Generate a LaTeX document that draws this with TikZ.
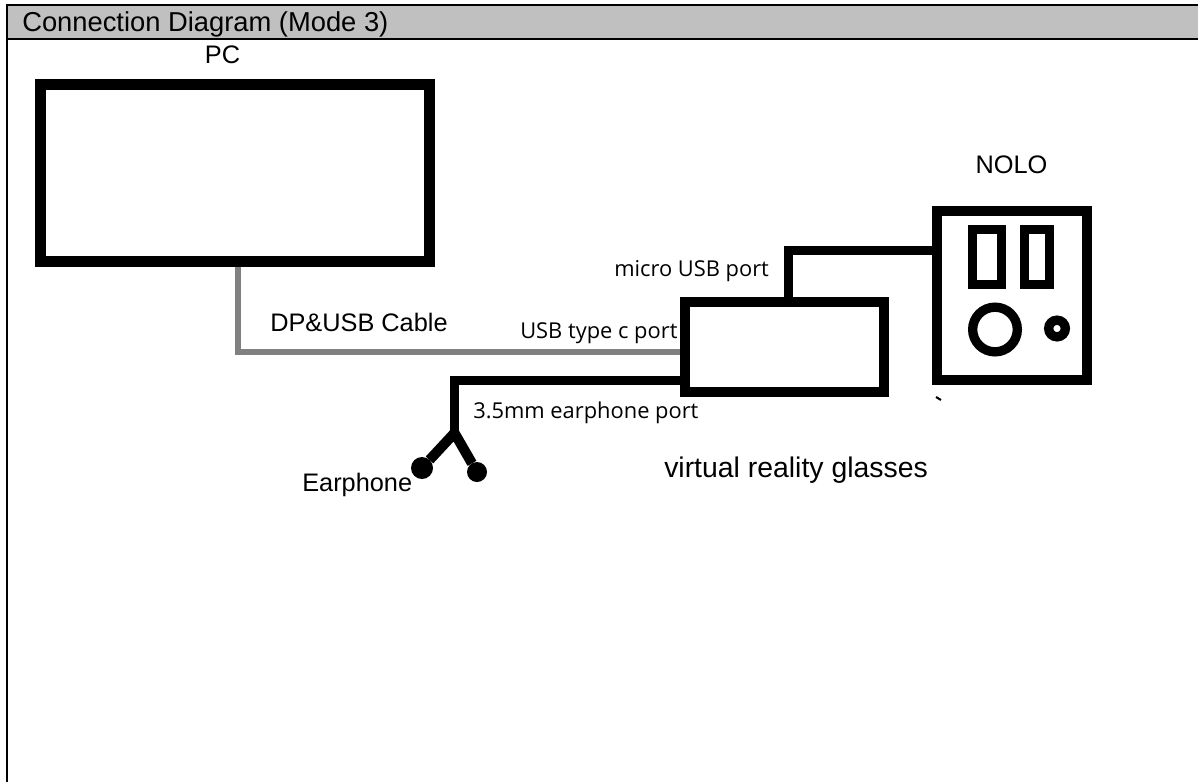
\documentclass[tikz,border=0pt]{standalone}
\usepackage{fontspec}
\setmainfont{Liberation Sans}
\newfontfamily\portfont{Open Sans}
\usetikzlibrary{positioning}
\definecolor{titlegray}{RGB}{192,192,192}
\definecolor{cablegray}{RGB}{128,128,128}
\tikzset{
	frameline/.style={line width=1.5pt},
	boxthick/.style={draw,line width=7.2pt,inner sep=0pt,outer sep=0pt},
	slotbox/.style={draw,line width=7pt,inner sep=0pt,outer sep=0pt},
	cable/.style={line width=6.8pt,line join=miter},
	graycable/.style={cablegray,line width=4.2pt},
	bud/.style={circle,fill=black,inner sep=0pt,outer sep=0pt},
	devlabel/.style={font=\fontsize{19}{22}\selectfont,inner sep=0pt},
	portlabel/.style={font=\portfont\fontsize{16.4}{19}\selectfont,inner sep=0pt}
}
\begin{document}
\begin{tikzpicture}[x=0.75pt,y=-0.75pt]
		\useasboundingbox (0,0) rectangle (1198,782);
		
		% -------------------------------------------------
		% 1. Title bar and frame
		% -------------------------------------------------
		\fill[titlegray] (7,5) rectangle (1198,39);
		\draw[frameline] (6,5) -- (1198,5);
		\draw[frameline] (7,39) -- (1198,39);
		\draw[frameline] (7,5) -- (7,782);
		\node[devlabel,anchor=base west,font=\fontsize{20.5}{24}\selectfont] (title) at (22,31) {Connection Diagram (Mode 3)};
		
		% -------------------------------------------------
		% 2. Cables (under the boxes)
		% -------------------------------------------------
		\coordinate (pcport) at (238,263);
		\coordinate (vrdp) at (684,352);
		\coordinate (vrusb) at (788.5,302);
		\coordinate (nolousb) at (937,250.5);
		\coordinate (vrjack) at (684,380.5);
		\coordinate (fork) at (454.5,433);
		\draw[graycable] (pcport) |- (vrdp);
		\draw[cable] (vrusb) |- (nolousb);
		\draw[cable] (vrjack) -| (fork);
		
		% -------------------------------------------------
		% 3. Boxes
		% -------------------------------------------------
		\node[boxthick,line width=8pt,minimum width=292pt,minimum height=133pt] (pc) at (235,173) {};
		\node[boxthick,minimum width=149.5pt,minimum height=67.8pt] (vr) at (784.5,347) {};
		\node[boxthick,minimum width=112.8pt,minimum height=127pt] (nolo) at (1012,295.5) {};
		
		% NOLO front
		\node[slotbox,minimum width=21.5pt,minimum height=41pt] (slota) at (987,257) {};
		\node[slotbox,minimum width=18.5pt,minimum height=41pt] (slotb) at (1037,257) {};
		\node[circle,draw,line width=7pt,minimum size=33.5pt,inner sep=0pt] (lens) at (995,329.5) {};
		\node[circle,draw,line width=7pt,minimum size=12.5pt,inner sep=0pt] (led) at (1057,328.5) {};
		\draw[line width=1.5pt] (936,397) -- (941,400);
		
		% -------------------------------------------------
		% 4. Earphone
		% -------------------------------------------------
		\node[bud,minimum size=16.5pt] (budl) at (422,468) {};
		\node[bud,minimum size=15pt] (budr) at (477,472) {};
		\draw[cable,line width=7.6pt] (budl) -- (fork) -- (budr);
		
		% -------------------------------------------------
		% 5. Labels
		% -------------------------------------------------
		\node[devlabel,anchor=base] (pclabel) at (222.5,63) {PC};
		\node[devlabel,anchor=base] (nololabel) at (1011.5,173) {NOLO};
		\node[devlabel,anchor=base west] (cablelabel) at (270,331) {DP\&USB Cable};
		\node[devlabel,anchor=base west] (earlabel) at (302,491) {Earphone};
		\node[devlabel,anchor=base west,font=\fontsize{21.3}{24}\selectfont] (vrlabel) at (664,477.5) {virtual reality glasses};
		\node[portlabel,anchor=base west] (microlabel) at (614,276) {micro USB port};
		\node[portlabel,anchor=base west] (typeclabel) at (520,338) {USB type c port};
		\node[portlabel,anchor=base west] (jacklabel) at (473,418) {3.5mm earphone port};
	\end{tikzpicture}
\end{document}
